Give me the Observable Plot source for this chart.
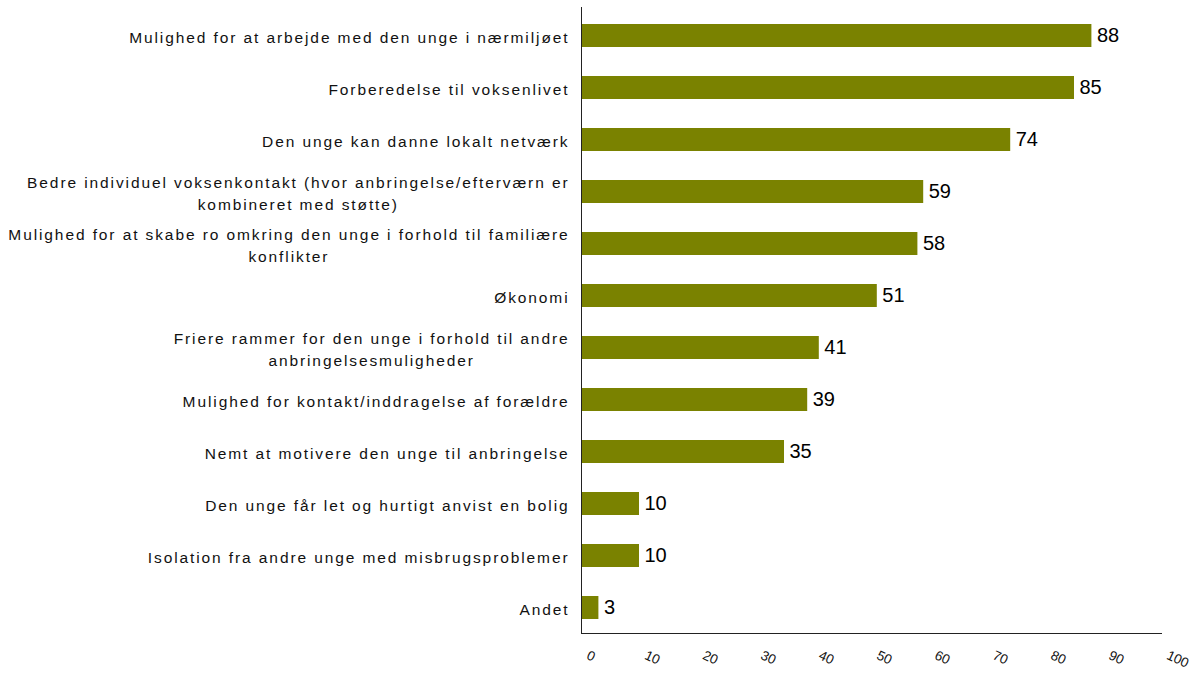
<!DOCTYPE html>
<html><head><meta charset="utf-8">
<script src="https://cdn.jsdelivr.net/npm/d3@7"></script>
<script src="https://cdn.jsdelivr.net/npm/@observablehq/plot@0.6"></script>
<style>
body{margin:0;background:#fff}
</style>
</head><body><div id="chart"></div>
<script>
const categories = [
  "Mulighed for at arbejde med den unge i nærmiljøet",
  "Forberedelse til voksenlivet",
  "Den unge kan danne lokalt netværk",
  "Bedre individuel voksenkontakt (hvor anbringelse/efterværn er kombineret med støtte)",
  "Mulighed for at skabe ro omkring den unge i forhold til familiære konflikter",
  "Økonomi",
  "Friere rammer for den unge i forhold til andre anbringelsesmuligheder",
  "Mulighed for kontakt/inddragelse af forældre",
  "Nemt at motivere den unge til anbringelse",
  "Den unge får let og hurtigt anvist en bolig",
  "Isolation fra andre unge med misbrugsproblemer",
  "Andet"
];
const values = [88, 85, 74, 59, 58, 51, 41, 39, 35, 10, 10, 3];
const xTicks = [0, 10, 20, 30, 40, 50, 60, 70, 80, 90, 100];

const data = categories.map((c, i) => ({category: c, value: values[i]}));

function wrap(s, maxChars = 66) {
  const words = s.split(" ");
  const lines = [];
  let cur = "";
  for (const w of words) {
    if (cur && (cur + " " + w).length > maxChars) { lines.push(cur); cur = w; }
    else cur = cur ? cur + " " + w : w;
  }
  if (cur) lines.push(cur);
  return lines.join("\n");
}

const chart = Plot.plot({
  width: 1201,
  height: 675,
  marginLeft: 581,
  marginRight: 40,
  marginTop: 7,
  marginBottom: 39,
  x: {domain: [0, 100]},
  y: {domain: categories, paddingInner: 0.56, paddingOuter: 0.28, align: 0.5, axis: null},
  style: {fontFamily: "'Liberation Sans', Arial, sans-serif", background: "#fff", color: "#000"},
  marks: [
    Plot.barX(data, {x: "value", y: "category", fill: "#7a8200"}),
    Plot.text(data, {x: "value", y: "category", text: d => String(d.value), textAnchor: "start", dx: 5, fontSize: 20, fill: "#000"}),
    Plot.text(data, {x: 0, y: "category", text: d => wrap(d.category), textAnchor: "end", dx: -12, fontSize: 15.5, lineHeight: 1.42, fill: "#111"}),
    Plot.axisX({ticks: xTicks, tickSize: 0, tickRotate: 25, tickPadding: 18, dx: 6, fontSize: 13.5, fill: "#111", label: null}),
    Plot.ruleX([0], {stroke: "#222", insetBottom: 3}),
    Plot.frame({anchor: "bottom", stroke: "#222", dy: -3})
  ]
});
document.getElementById("chart").appendChild(chart);

// category labels: widen letter spacing and center the lines of multi-line labels inside a right-aligned block
const textGroups = chart.querySelectorAll('g[aria-label="text"]');
const labelGroup = textGroups[1];
if (labelGroup) {
  labelGroup.style.letterSpacing = "1.9px";
  labelGroup.querySelectorAll("text").forEach(t => {
    const spans = t.querySelectorAll("tspan");
    if (spans.length < 2) return;
    const w = t.getBBox().width;
    t.setAttribute("text-anchor", "middle");
    spans.forEach(s => {
      const x0 = parseFloat(s.getAttribute("x") || "0");
      s.setAttribute("x", x0 - w / 2);
    });
  });
}
</script>
</body></html>
